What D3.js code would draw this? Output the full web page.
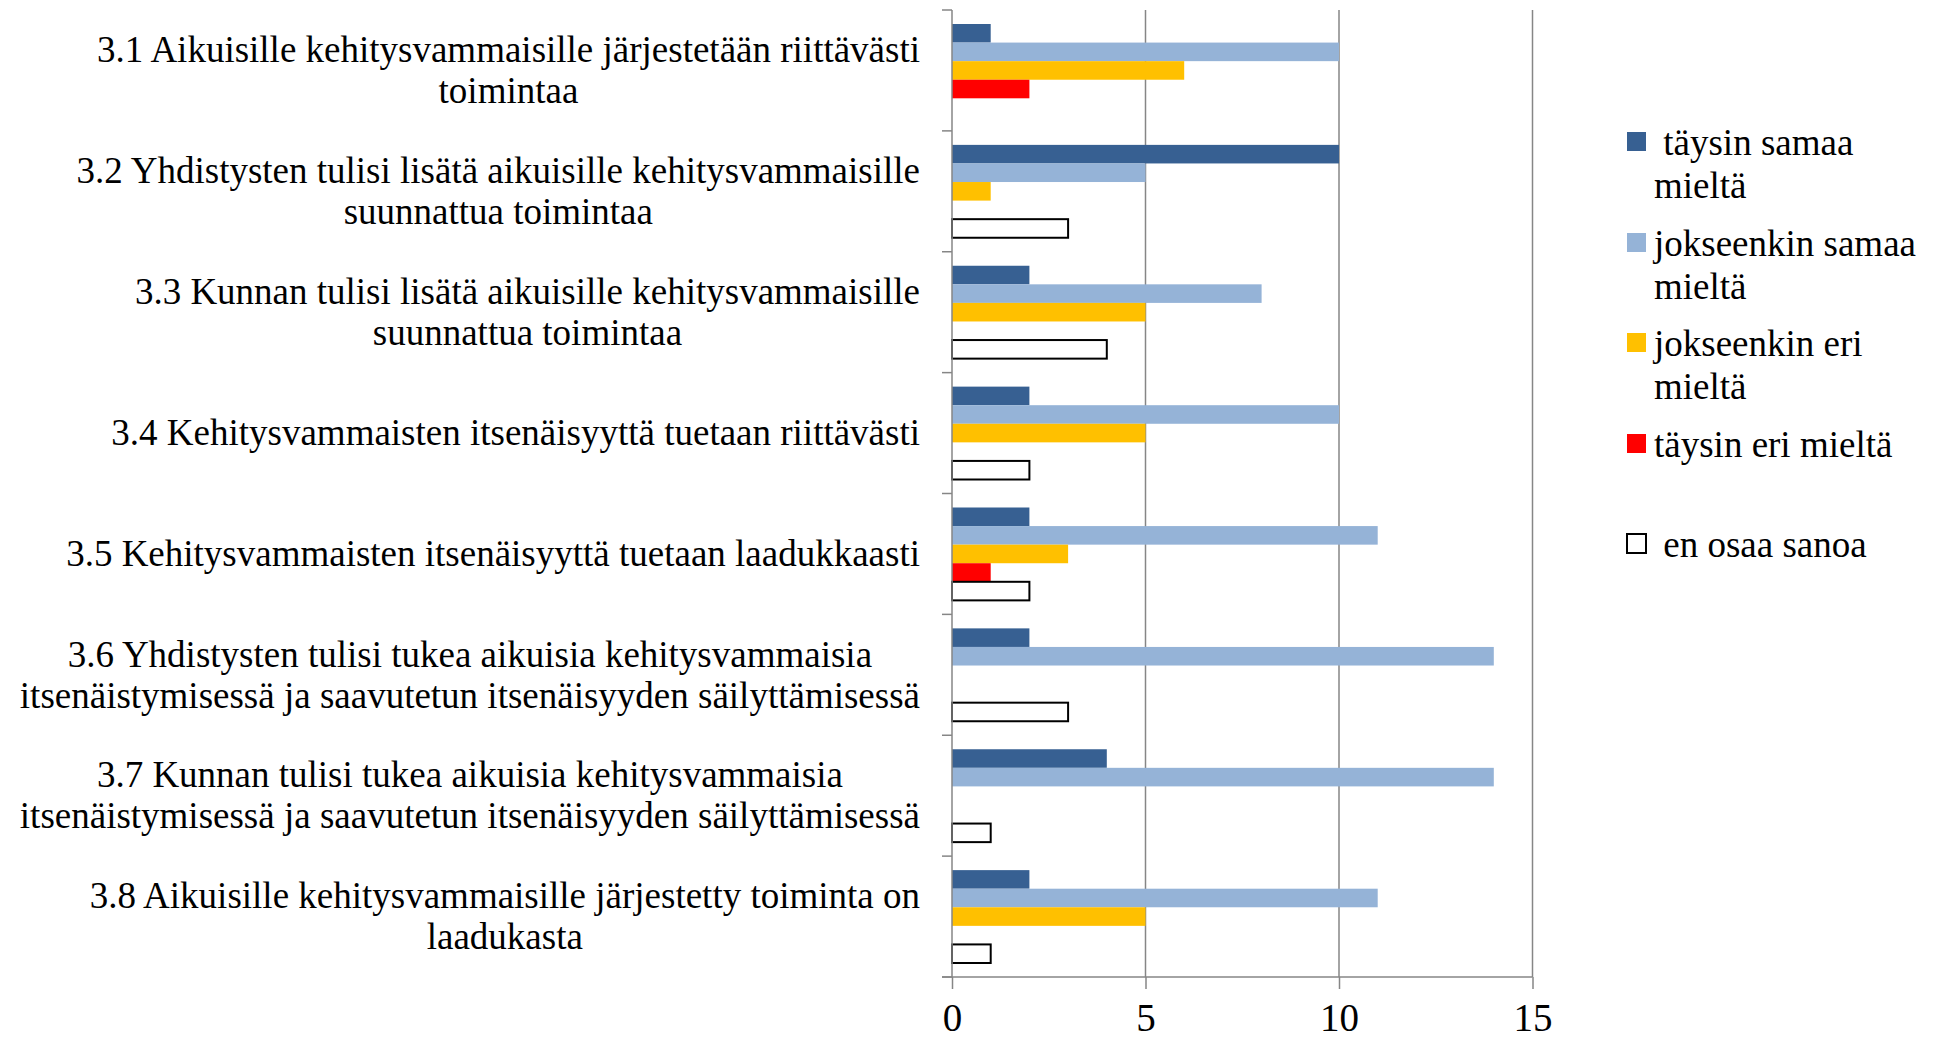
<!DOCTYPE html>
<html>
<head>
<meta charset="utf-8">
<script src="https://cdn.jsdelivr.net/npm/d3@7"></script>
<style>
  body { margin: 0; background: #fff; }
  text { font-family: "Liberation Serif", "Times New Roman", serif; fill: #000; }
</style>
</head>
<body>
<div id="my_dataviz"></div>
<script>
// categories (label lines)
var categories = [
  ["3.1 Aikuisille kehitysvammaisille järjestetään riittävästi", "toimintaa"],
  ["3.2 Yhdistysten tulisi lisätä aikuisille kehitysvammaisille", "suunnattua toimintaa"],
  ["3.3 Kunnan tulisi lisätä aikuisille kehitysvammaisille", "suunnattua toimintaa"],
  ["3.4 Kehitysvammaisten itsenäisyyttä tuetaan riittävästi"],
  ["3.5 Kehitysvammaisten itsenäisyyttä tuetaan laadukkaasti"],
  ["3.6 Yhdistysten tulisi tukea aikuisia kehitysvammaisia", "itsenäistymisessä ja saavutetun itsenäisyyden säilyttämisessä"],
  ["3.7 Kunnan tulisi tukea aikuisia kehitysvammaisia", "itsenäistymisessä ja saavutetun itsenäisyyden säilyttämisessä"],
  ["3.8 Aikuisille kehitysvammaisille järjestetty toiminta on", "laadukasta"]
];

// series
var seriesNames = [" täysin samaa|mieltä", "jokseenkin samaa|mieltä", "jokseenkin eri|mieltä", "täysin eri mieltä", " en osaa sanoa"];
var taysinSamaa     = [1, 10, 2, 2, 2, 2, 4, 2];
var jokseenkinSamaa = [10, 5, 8, 10, 11, 14, 14, 11];
var jokseenkinEri   = [6, 1, 5, 5, 3, 0, 0, 5];
var taysinEri       = [2, 0, 0, 0, 1, 0, 0, 0];
var enOsaaSanoa     = [0, 3, 4, 2, 2, 3, 1, 1];
var xTicks = [0, 5, 10, 15];

var colors = ["#376092", "#95b3d7", "#ffc000", "#ff0000", "#ffffff"];
var allSeries = [taysinSamaa, jokseenkinSamaa, jokseenkinEri, taysinEri, enOsaaSanoa];

var W = 1957, H = 1040, fs = 37;

var svg = d3.select("#my_dataviz")
  .append("svg")
    .attr("width", W)
    .attr("height", H);

// scales
var x = d3.scaleLinear().domain([0, 15]).range([952, 1532.5]);
var y = d3.scaleBand().domain(d3.range(categories.length)).range([10, 977]);
var ySub = d3.scaleBand().domain(d3.range(allSeries.length))
  .range([14, y.bandwidth() - 14]);

// grid lines
svg.append("g")
  .selectAll("line")
  .data(xTicks.slice(1))
  .enter()
  .append("line")
    .attr("x1", function(d) { return x(d); })
    .attr("x2", function(d) { return x(d); })
    .attr("y1", 10)
    .attr("y2", 977)
    .attr("stroke", "#868686")
    .attr("stroke-width", 1.5);

// bars
var rows = [];
categories.forEach(function(c, i) {
  allSeries.forEach(function(s, j) {
    if (s[i] > 0) rows.push({cat: i, ser: j, value: s[i]});
  });
});

svg.selectAll("mybar")
  .data(rows)
  .enter()
  .append("rect")
    .attr("x", x(0))
    .attr("y", function(d) { return y(d.cat) + ySub(d.ser); })
    .attr("width", function(d) { return x(d.value) - x(0); })
    .attr("height", ySub.bandwidth())
    .attr("fill", function(d) { return colors[d.ser]; })
    .attr("stroke", function(d) { return d.ser == 4 ? "#000" : "none"; })
    .attr("stroke-width", 2);

// Y axis (left)
var yAxis = svg.append("g").attr("stroke", "#868686").attr("stroke-width", 1.5);
yAxis.append("line").attr("x1", x(0)).attr("x2", x(0)).attr("y1", 10).attr("y2", 977);
yAxis.selectAll("tk")
  .data(d3.range(categories.length + 1))
  .enter()
  .append("line")
    .attr("x1", x(0) - 10)
    .attr("x2", x(0))
    .attr("y1", function(d) { return 10 + d * y.step(); })
    .attr("y2", function(d) { return 10 + d * y.step(); });

// X axis (bottom)
var xAxis = svg.append("g").attr("transform", "translate(0,977)");
xAxis.call(d3.axisBottom(x).tickValues(xTicks).tickSize(12).tickSizeOuter(0).tickPadding(14));
xAxis.select(".domain").remove();
xAxis.append("line").attr("x1", x(0) - 10).attr("x2", x(15)).attr("y1", 0).attr("y2", 0);
xAxis.selectAll("line").attr("stroke", "#868686").attr("stroke-width", 1.5);
xAxis.selectAll("text")
  .style("font-family", "'Liberation Serif', 'Times New Roman', serif")
  .style("font-size", "39px")
  .attr("fill", "#000");

// category labels: block right-aligned, lines centered
var labelRight = 920, lineH = 41;
categories.forEach(function(lines, i) {
  var g = svg.append("g");
  var cy = y(i) + y.bandwidth() / 2;
  var texts = lines.map(function(l, k) {
    return g.append("text")
      .attr("text-anchor", "middle")
      .style("font-size", fs + "px")
      .attr("y", cy + (k - (lines.length - 1) / 2) * lineH + fs * 0.33)
      .text(l);
  });
  var maxW = d3.max(texts, function(t) { return t.node().getComputedTextLength(); });
  texts.forEach(function(t) { t.attr("x", labelRight - maxW / 2); });
});

// legend
var legY = [141.5, 242.5, 342.5, 443.5, 543.5];
var leg = svg.append("g");
seriesNames.forEach(function(name, i) {
  leg.append("rect")
    .attr("x", 1627).attr("y", legY[i] - 9.5)
    .attr("width", 19).attr("height", 19)
    .attr("fill", colors[i])
    .attr("stroke", i == 4 ? "#000" : "none")
    .attr("stroke-width", 2);
  name.split("|").forEach(function(part, k) {
    leg.append("text")
      .attr("x", 1654)
      .attr("y", legY[i] + 13 + k * 43)
      .style("font-size", fs + "px")
      .style("white-space", "pre")
      .text(part);
  });
});
</script>
</body>
</html>
